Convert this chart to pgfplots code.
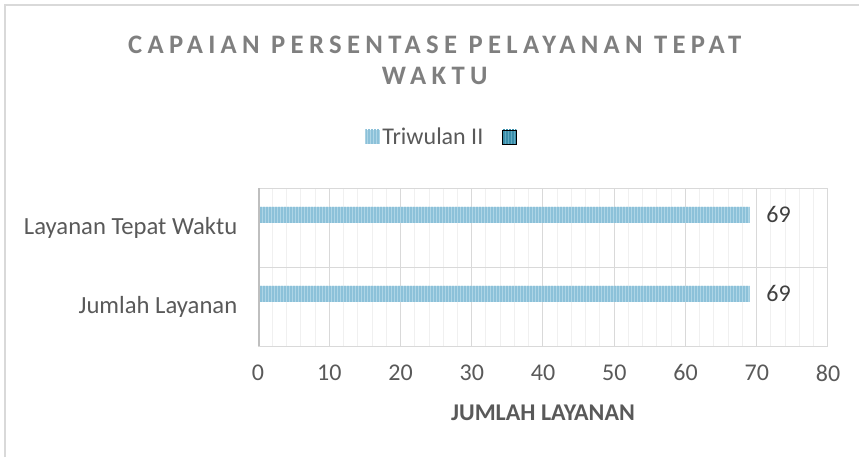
\documentclass[border=0pt]{standalone}
\usepackage{fontspec}
\setmainfont{Carlito}
\newfontfamily\titlefont[LetterSpace=20]{Carlito}
\usepackage{pgfplots}
\pgfplotsset{compat=1.18}
\usetikzlibrary{patterns.meta}
\definecolor{txt}{HTML}{595959}
\definecolor{lbl}{HTML}{404040}
\definecolor{ttl}{HTML}{7F7F7F}
\definecolor{grd}{HTML}{D9D9D9}
\definecolor{mgrd}{HTML}{F0F0F0}
\definecolor{axl}{HTML}{BFBFBF}
\definecolor{barA}{HTML}{AED5E6}
\definecolor{barAs}{HTML}{8CC1D9}
\definecolor{barB}{HTML}{62AAC2}
\definecolor{barBs}{HTML}{3A8EAA}
\begin{document}
\begin{tikzpicture}[x=0.75pt,y=-0.75pt]
\path[use as bounding box] (0,0) rectangle (859,457);
\draw[grd, line width=1.5pt] (5,457) -- (5,5) -- (859,5);
\begin{axis}[
  at={(193.5pt,-259.5pt)}, anchor=south west,
  scale only axis, width=427.5pt, height=118.5pt,
  xmin=0, xmax=80, ymin=-0.5, ymax=1.5,
  xtick={0,10,...,80}, minor x tick num=4,
  ytick={0,1}, yticklabels={Jumlah Layanan, Layanan Tepat Waktu},
  extra y ticks={0.5}, extra y tick labels={},
  extra y tick style={grid=major, major grid style={grd, line width=0.75pt}},
  xmajorgrids, xminorgrids,
  major grid style={grd, line width=0.75pt},
  minor grid style={mgrd, line width=0.75pt},
  major tick length=0, minor tick length=0,
  axis line style={grd, line width=0.75pt},
  /pgf/number format/assume math mode=true,
  tick label style={font=\fontsize{18}{22}\selectfont, color=txt},
  xticklabel style={yshift=-10.5pt},
  yticklabel style={xshift=-12pt, font=\fontsize{18.5}{22}\selectfont},
  title={CAPAIAN PERSENTASE PELAYANAN TEPAT\\WAKTU},
  title style={at={(axis description cs:0.31,1.94)}, anchor=north, align=center,
    font=\titlefont\bfseries\fontsize{20}{23}\selectfont, color=ttl},
  xlabel={JUMLAH LAYANAN},
  xlabel style={at={(axis description cs:0.5,-0.424)}, anchor=center,
    font=\bfseries\fontsize{18}{22}\selectfont, color=txt},
  legend style={at={(axis description cs:0.326,1.323)}, anchor=center, draw=none,
    font=\fontsize{18}{22}\selectfont, text=txt,
    /tikz/every even column/.append style={column sep=12pt}},
  legend columns=-1,
]
\addplot[xbar, bar width=12pt, bar shift=9.4pt, draw=none, fill=barA,
  postaction={pattern={Lines[angle=90,distance=2.25pt,line width=0.9pt]}, pattern color=barAs},
  nodes near coords, nodes near coords style={anchor=west, xshift=9pt, yshift=9.4pt, font=\fontsize{18}{22}\selectfont, color=lbl},
  legend image code/.code={
    \fill[barA] (0pt,-5.25pt) rectangle (10.5pt,5.25pt);
    \fill[pattern={Lines[angle=90,distance=2.25pt,line width=0.9pt]}, pattern color=barAs] (0pt,-5.25pt) rectangle (10.5pt,5.25pt);
  }]
  coordinates {(69,0) (69,1)};
\addlegendentry{Triwulan II}
\addlegendimage{legend image code/.code={
    \fill[barB] (0pt,-5.25pt) rectangle (10.5pt,5.25pt);
    \fill[pattern={Lines[angle=90,distance=2.25pt,line width=0.9pt]}, pattern color=barBs] (0pt,-5.25pt) rectangle (10.5pt,5.25pt);
  }}
\addlegendentry{}
\draw[axl, line width=2.25pt] (axis cs:0,-0.5) -- (axis cs:0,1.5);
\end{axis}
\end{tikzpicture}
\end{document}
